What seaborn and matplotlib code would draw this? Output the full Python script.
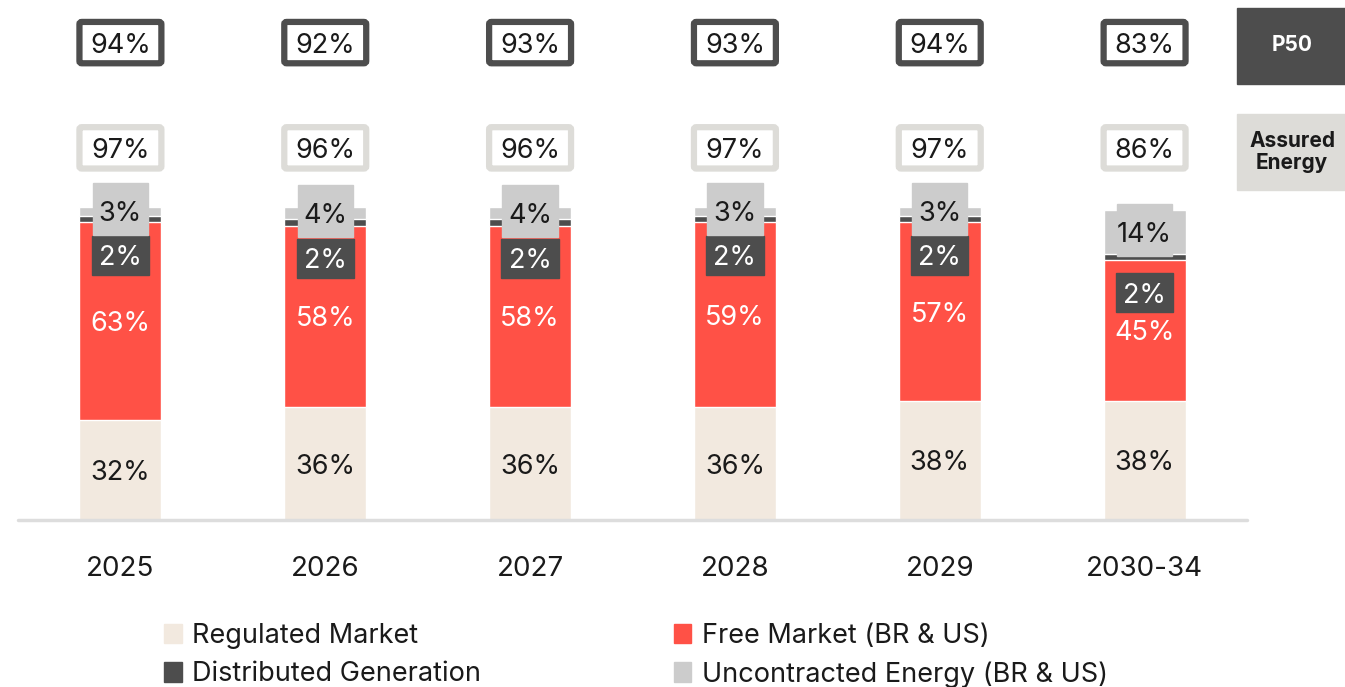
import matplotlib
matplotlib.use("Agg")
import matplotlib.pyplot as plt
from matplotlib.patches import FancyBboxPatch, Rectangle, Patch
import numpy as np
import seaborn as sns

# Data (% of contracted energy per year)
years = ["2025", "2026", "2027", "2028", "2029", "2030-34"]
regulated = [32, 36, 36, 36, 38, 38]
free_market = [63, 58, 58, 59, 57, 45]
distributed = [2, 2, 2, 2, 2, 2]
uncontracted = [3, 4, 4, 3, 3, 14]
p50 = [94, 92, 93, 93, 94, 83]
assured = [97, 96, 96, 97, 97, 86]

C_REG = "#F2E9DF"
C_FREE = "#FF5146"
C_DG = "#4D4D4D"
C_UNC = "#CCCCCC"
C_EDGE_LIGHT = "#DDDCD8"
TXT = "#1A1A1A"

sns.set_style("white")
plt.rcParams["font.family"] = ["Inter", "DejaVu Sans"]

fig = plt.figure(figsize=(13.45, 6.87), dpi=100)
ax = fig.add_axes([18 / 1345, (687 - 520) / 687, (1247 - 18) / 1345, 520 / 687])

reg = np.array(regulated)
cum_free = reg + np.array(free_market)
cum_dg = cum_free + np.array(distributed)
cum_unc = cum_dg + np.array(uncontracted)

# layered bars, tallest first
for vals, col in [(cum_unc, C_UNC), (cum_dg, C_DG), (cum_free, C_FREE), (reg, C_REG)]:
    sns.barplot(x=years, y=vals, color=col, width=0.4, saturation=1, ax=ax, zorder=2)

ax.set_xlim(-0.5, 5.5)
ax.set_ylim(0, 166)
ax.axhline(0, color="#DDDDDD", lw=2.5, zorder=3, clip_on=False)
sns.despine(ax=ax, left=True, bottom=True)
ax.set_yticks([])
ax.set_ylabel("")
ax.tick_params(axis="x", length=0, pad=26, labelsize=20, labelcolor=TXT)

fs = 19.5
va = "center_baseline"
for i in range(len(years)):
    # segment labels
    ax.text(i, reg[i] / 2, f"{regulated[i]}%", ha="center", va=va,
            fontsize=fs, color=TXT, zorder=5)
    ax.text(i, reg[i] + free_market[i] / 2, f"{free_market[i]}%",
            ha="center", va=va, fontsize=fs, color="white", zorder=5)
    y_dg = cum_free[i] - 10.5
    ax.add_patch(Rectangle((i - 0.14, y_dg - 6.2), 0.28, 12.4, color=C_DG, zorder=4))
    ax.text(i, y_dg, f"{distributed[i]}%", ha="center", va=va,
            fontsize=fs, color="white", zorder=5)
    y_un = cum_dg[i] + uncontracted[i] / 2
    ax.add_patch(Rectangle((i - 0.135, y_un - 7.6), 0.27, 16.6, color=C_UNC, zorder=4))
    ax.text(i, y_un, f"{uncontracted[i]}%", ha="center", va=va,
            fontsize=fs, color=TXT, zorder=5)

    # P50 and assured energy boxes
    for val, yc, ec in [(p50[i], 152.4, C_DG), (assured[i], 118.8, C_EDGE_LIGHT)]:
        ax.add_patch(FancyBboxPatch((i - 0.2, yc - 6.6), 0.4, 13.2,
                                    boxstyle="round,pad=0,rounding_size=0.012",
                                    fc="white", ec=ec, lw=4.5, zorder=4,
                                    mutation_aspect=60))
        ax.text(i, yc, f"{val}%", ha="center", va=va, fontsize=fs,
                color=TXT, zorder=5)

# side labels
ax.add_patch(Rectangle((5.449, 139.3), 0.55, 24.3, color=C_DG, clip_on=False, zorder=4))
ax.text(5.72, 151.5, "P50", ha="center", va="center", fontsize=15,
        fontweight="bold", color="white", clip_on=False, zorder=5)
ax.add_patch(Rectangle((5.449, 105.4), 0.55, 24.3, color=C_EDGE_LIGHT, clip_on=False, zorder=4))
ax.text(5.72, 117.5, "Assured\nEnergy", ha="center", va="center", fontsize=15,
        fontweight="bold", color=TXT, linespacing=1.15, clip_on=False, zorder=5)

handles = [Patch(color=C_REG, label="Regulated Market"),
           Patch(color=C_DG, label="Distributed Generation"),
           Patch(color=C_FREE, label="Free Market (BR & US)"),
           Patch(color=C_UNC, label="Uncontracted Energy (BR & US)")]
fig.legend(handles=handles, ncol=2, loc="upper left",
           bbox_to_anchor=(164 / 1345, 1 - 623 / 687), frameon=False,
           fontsize=19.5, handlelength=0.65, handleheight=0.75, handletextpad=0.4,
           columnspacing=7.1, labelspacing=0.45, borderaxespad=0, borderpad=0,
           labelcolor=TXT)

fig.savefig("out.png", dpi=100)
